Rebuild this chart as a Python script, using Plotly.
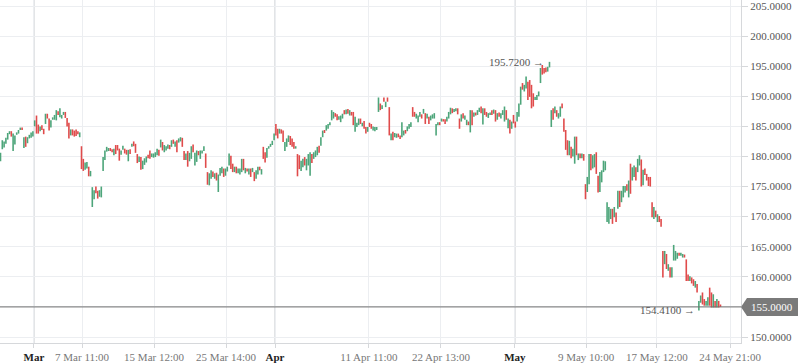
import plotly.graph_objects as go

# ---- data ----
opens = [
179.2,181.2,181.5,182.1,182.8,183.7,184.2,180.9,182.0,183.6,183.8,184.4,184.8,181.4,183.3,182.2,183.0,183.1,183.3,185.0,
186.8,185.3,184.2,185.2,184.6,185.4,187.1,186.3,184.8,186.1,186.1,186.0,187.5,186.5,186.3,186.9,187.4,186.4,185.6,183.5,
184.5,184.3,184.5,184.2,183.2,181.7,179.6,177.8,178.0,178.3,176.7,171.6,172.9,175.0,174.3,173.3,173.2,177.6,179.4,180.8,
180.9,181.4,181.2,180.2,181.9,181.9,181.3,180.3,181.1,181.3,181.1,179.2,181.2,181.6,182.5,182.1,180.4,179.1,179.9,177.9,
178.6,179.0,180.3,181.0,179.9,179.8,179.9,180.2,181.1,181.5,182.4,180.7,181.0,181.3,181.9,181.6,182.8,181.6,182.7,182.3,
182.5,183.1,180.9,179.4,180.9,179.2,179.6,182.0,178.5,179.1,180.9,179.6,180.5,180.9,180.5,177.4,175.2,176.3,177.5,176.3,
177.3,174.1,176.8,177.2,178.0,176.8,177.5,178.5,180.1,178.8,177.4,178.3,177.2,177.0,177.4,179.6,177.2,178.0,177.0,178.0,
177.4,177.4,176.3,177.0,178.3,177.0,181.6,180.7,179.8,181.3,181.6,181.9,182.7,185.4,184.6,183.8,184.5,184.3,180.9,181.6,
182.4,183.4,183.0,182.4,181.3,180.4,180.2,177.6,178.2,179.9,177.7,178.5,176.8,180.4,179.6,179.9,180.2,181.8,181.8,183.2,
184.4,184.3,184.6,185.2,186.0,186.3,187.2,187.0,186.1,185.7,186.3,187.7,187.0,187.9,186.8,187.4,187.4,184.1,184.9,185.2,
186.3,185.0,185.9,184.9,184.1,185.6,185.4,184.3,184.2,184.4,187.4,188.8,187.9,189.8,188.2,189.8,188.2,182.7,184.1,183.2,
183.1,183.8,183.5,183.2,183.5,184.4,184.2,184.6,184.9,188.2,187.4,186.3,185.7,186.6,187.0,187.1,187.2,186.3,186.6,186.0,
186.3,186.3,183.5,185.2,185.7,185.8,186.2,186.2,185.8,186.3,187.0,188.0,187.4,187.5,188.0,186.3,185.8,187.2,186.1,185.2,
185.8,184.0,187.7,186.6,187.3,186.9,187.4,188.3,185.3,188.0,187.4,186.4,186.9,187.7,187.1,187.7,186.1,187.3,186.3,186.9,
185.8,187.7,184.7,186.1,184.6,186.9,185.8,185.8,186.6,188.6,192.2,190.8,191.3,192.4,192.7,191.9,190.5,189.4,189.4,190.0,
192.2,195.2,194.7,194.8,194.1,194.8,184.9,188.0,187.2,187.7,186.3,186.6,188.8,186.3,184.4,182.7,180.2,181.6,180.0,178.8,
183.3,179.4,180.5,179.7,180.4,175.4,174.1,175.4,180.4,178.0,178.2,180.7,176.8,174.1,175.7,177.4,177.7,169.1,168.8,169.6,
171.3,169.9,170.7,171.3,174.3,172.4,173.2,174.0,175.4,173.2,178.8,176.0,176.6,178.2,177.4,178.5,179.5,175.2,178.0,177.1,
176.6,176.6,172.4,169.6,171.0,169.1,170.1,169.6,164.3,162.1,163.8,161.0,161.6,159.9,162.7,162.7,163.0,164.0,163.5,163.2,
163.7,162.9,160.4,159.3,159.9,159.6,158.2,158.8,154.41,155.7,157.4,156.3,155.2,155.2,158.2,157.4,154.9,156.0,154.9,156.0,
155.4,
]
closes = [
180.6,182.7,182.5,183.1,183.9,184.2,183.3,183.8,183.5,184.0,184.4,184.8,184.4,183.2,181.6,183.2,183.6,184.0,184.2,186.0,
183.8,183.8,185.0,184.4,183.7,187.1,186.3,184.3,186.0,186.5,186.9,187.7,186.9,188.0,186.9,187.4,186.4,185.0,183.0,184.5,
183.5,183.3,183.4,183.7,184.0,177.9,177.6,179.0,179.1,176.7,177.6,174.9,174.4,173.9,173.0,174.4,175.0,179.9,181.0,181.6,
181.4,180.9,180.7,181.3,180.4,181.0,179.3,181.0,181.8,180.5,180.3,181.1,180.4,182.1,181.7,180.6,178.9,180.0,177.8,179.3,
179.7,180.0,179.7,179.6,180.5,180.5,180.7,181.3,180.1,182.8,181.0,181.9,181.7,182.0,181.2,182.7,182.1,182.5,180.7,183.0,
183.2,181.6,179.4,180.5,178.3,180.6,181.7,180.7,180.6,181.0,180.2,181.0,181.0,181.7,178.1,175.3,177.2,177.7,176.6,177.2,
176.0,177.0,178.1,178.3,176.6,178.0,178.3,180.5,177.9,177.4,178.3,177.2,178.0,178.0,179.6,177.7,178.1,177.5,178.0,176.6,
178.1,175.9,177.7,178.3,177.7,177.9,179.6,179.0,181.4,181.7,182.1,182.6,183.8,183.5,183.0,184.6,183.8,182.4,182.4,183.0,
183.5,181.9,181.6,181.3,181.7,176.7,177.9,179.3,179.6,178.5,179.6,180.4,180.7,178.9,180.7,181.0,181.6,180.6,183.2,184.3,
183.9,185.2,185.4,185.7,187.7,187.4,186.6,186.0,186.7,186.8,187.1,187.0,187.8,187.1,187.7,186.8,185.2,186.6,185.6,186.3,
185.4,185.6,184.6,183.8,184.9,184.9,184.6,185.0,184.9,184.9,189.8,187.7,188.5,189.1,189.1,189.1,183.5,183.8,182.7,183.9,
183.8,183.2,182.9,185.7,184.3,183.8,185.0,185.4,185.7,186.6,186.6,187.1,186.8,187.4,186.3,187.9,185.4,187.1,185.4,186.8,
187.0,187.2,185.4,185.7,185.2,186.3,185.8,185.4,186.6,187.4,188.1,187.2,187.9,188.0,187.0,184.6,187.0,186.3,186.8,186.1,
185.2,187.7,185.2,187.3,186.8,187.7,188.1,187.2,188.0,186.9,186.6,187.2,187.3,186.9,187.8,185.8,187.2,186.6,187.2,187.7,
188.3,186.1,186.3,183.8,185.8,185.5,184.8,187.4,188.8,191.6,191.1,191.9,193.3,189.4,189.9,188.0,188.3,189.9,190.2,190.8,
194.7,193.6,193.8,194.0,194.9,195.72,187.7,186.1,188.3,186.6,187.2,188.3,188.0,184.1,181.1,180.2,182.6,179.7,181.3,183.3,
180.2,180.5,179.7,180.5,179.3,172.9,176.6,180.4,177.7,180.2,180.4,177.1,174.0,177.4,177.7,179.3,179.2,172.4,171.6,171.3,
168.8,171.6,169.1,174.3,171.6,174.3,175.1,175.1,174.3,176.0,173.8,178.2,178.5,176.0,179.6,180.2,175.0,177.8,176.9,176.0,
175.1,175.0,169.9,171.6,169.9,170.4,169.1,168.3,159.9,164.3,161.3,162.1,159.9,161.6,165.3,164.3,164.0,163.5,164.0,163.8,
163.2,159.3,159.3,160.1,158.9,158.5,159.3,157.4,156.0,156.9,155.4,155.2,156.0,156.6,155.2,154.9,157.1,154.9,156.3,154.9,
155.0,
]
tick_labels = ["<b><span style='color:#222'>Mar</span></b>", "7 Mar 11:00", "15 Mar 12:00", "25 Mar 14:00",
               "<b><span style='color:#222'>Apr</span></b>", "11 Apr 11:00", "22 Apr 13:00",
               "<b><span style='color:#222'>May</span></b>", "9 May 10:00", "17 May 12:00", "24 May 21:00"]
tick_index = [18.6, 45.3, 85.3, 125.3, 152.5, 204.7, 244.7, 285.8, 325.3, 364.7, 405.3]
month_index = [18.6, 152.5, 285.8]
y_ticks = [150, 155, 160, 165, 170, 175, 180, 185, 190, 195, 200, 205]
last_price = 155.0
max_label = "195.7200 →"
min_label = "154.4100 →"

n = min(len(opens), len(closes))
opens = opens[:n]
closes = closes[:n]
idx = list(range(n))
highs = [max(o, c) for o, c in zip(opens, closes)]
lows = [min(o, c) for o, c in zip(opens, closes)]

UP = "#4da57a"
DN = "#e04b4b"
FONT = "Liberation Serif, DejaVu Serif, serif"

fig = go.Figure(go.Ohlc(
    x=idx, open=opens, high=highs, low=lows, close=closes,
    increasing=dict(line=dict(color=UP, width=1.6)),
    decreasing=dict(line=dict(color=DN, width=1.6)),
    tickwidth=0, hoverinfo="skip",
))

imax = max(range(n), key=lambda i: highs[i])
imin = min(range(n), key=lambda i: lows[i])

shapes = []
for m in month_index:
    shapes.append(dict(type="line", xref="x", yref="paper", x0=m, x1=m, y0=0, y1=1,
                       line=dict(color="#d9dbde", width=1.5), layer="below"))
shapes.append(dict(type="line", xref="paper", yref="y", x0=0, x1=1, y0=last_price, y1=last_price,
                   line=dict(color="#707070", width=1), layer="above"))
# price tag on right axis
W = 741.0
ppu = 6.018
tag_top = last_price + 9 / ppu
tag_bot = last_price - 9 / ppu
shapes.append(dict(type="path", xref="paper", yref="y",
                   path=f"M {741/W} {last_price} L {747/W} {tag_top} L {798/W} {tag_top} L {798/W} {tag_bot} L {747/W} {tag_bot} Z",
                   fillcolor="#7a7a7a", line=dict(width=0), layer="above"))

annotations = [
    dict(x=imax, y=highs[imax], xref="x", yref="y", text=max_label, showarrow=False,
         xanchor="right", yanchor="middle", xshift=-3, font=dict(family=FONT, size=11, color="#555")),
    dict(x=imin, y=lows[imin], xref="x", yref="y", text=min_label, showarrow=False,
         xanchor="right", yanchor="middle", xshift=-2, font=dict(family=FONT, size=11, color="#555")),
    dict(x=(747 + 797) / 2 / W, y=last_price, xref="paper", yref="y", text=f"{last_price:.4f}",
         showarrow=False, xanchor="center", yanchor="middle",
         font=dict(family=FONT, size=11, color="#ffffff")),
]

y_text = ["" if v == last_price else f"{v:.4f}" for v in y_ticks]

fig.update_layout(
    width=798, height=363,
    margin=dict(l=0, r=57, t=0, b=20, autoexpand=False),
    paper_bgcolor="white", plot_bgcolor="white",
    showlegend=False,
    font=dict(family=FONT, size=11, color="#666"),
    shapes=shapes, annotations=annotations,
    xaxis=dict(
        range=[-0.28, 411.4], rangeslider=dict(visible=False),
        tickmode="array", tickvals=tick_index, ticktext=tick_labels,
        showgrid=True, gridcolor="#eceef1", gridwidth=1,
        showline=True, linecolor="#d6d8db", linewidth=1,
        ticks="outside", ticklen=4, tickcolor="#d6d8db",
        tickfont=dict(family=FONT, size=11, color="#777"),
        zeroline=False, fixedrange=True, automargin=False,
    ),
    yaxis=dict(
        side="right", range=[149.003, 206.0],
        tickmode="array", tickvals=y_ticks, ticktext=y_text,
        showgrid=True, gridcolor="#eceef1", gridwidth=1,
        showline=True, linecolor="#d6d8db", linewidth=1,
        ticks="outside", ticklen=6, tickcolor="#d6d8db",
        tickfont=dict(family=FONT, size=11, color="#555"),
        ticklabeloverflow="allow",
        zeroline=False, fixedrange=True, automargin=False,
    ),
)

fig.write_html("out.html", config={"displayModeBar": False},
               post_script="document.body.style.margin='0';document.body.style.padding='0';")
